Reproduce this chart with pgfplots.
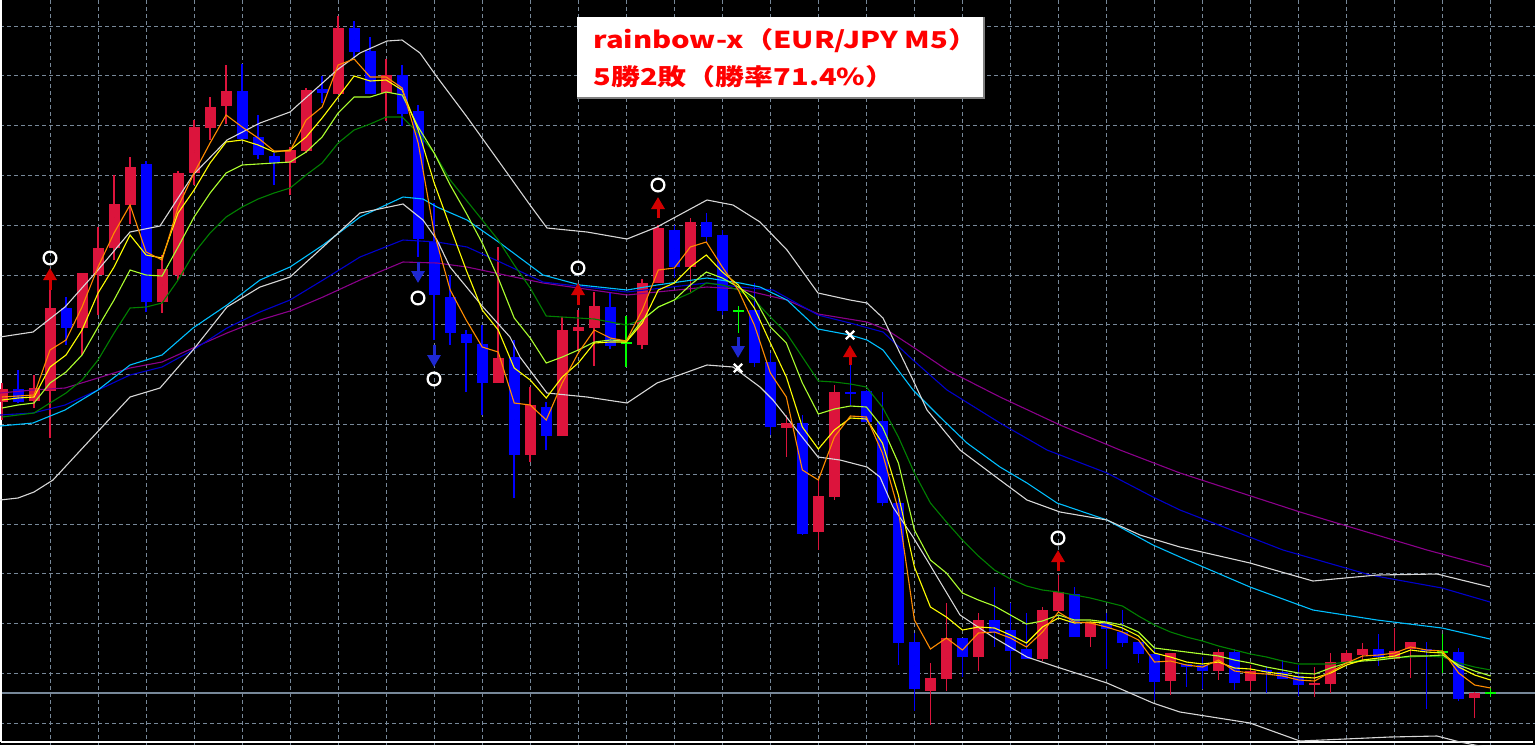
\documentclass[border=0pt]{standalone}
\usepackage{pgfplots}
\pgfplotsset{compat=1.18}
\usepackage{pgfplotstable}
\usepackage{fontspec}
\newfontfamily\jp{Noto Sans CJK JP}
\usetikzlibrary{arrows.meta}
\definecolor{gridc}{RGB}{119,136,153}
\definecolor{crim}{RGB}{220,20,60}
\definecolor{bblue}{RGB}{0,0,255}
\definecolor{dojic}{RGB}{0,255,0}
\definecolor{maor}{RGB}{255,140,0}
\definecolor{mayel}{RGB}{255,255,0}
\definecolor{magy}{RGB}{173,255,47}
\definecolor{magr}{RGB}{0,128,0}
\definecolor{macy}{RGB}{0,191,255}
\definecolor{manv}{RGB}{0,0,205}
\definecolor{mapu}{RGB}{139,0,139}
\definecolor{bbc}{RGB}{215,215,215}
\definecolor{arred}{RGB}{210,0,0}
\definecolor{arblue}{RGB}{30,40,210}
\pgfplotsset{candle/.style={only marks, mark size=0pt, mark options={draw=none, fill=none},
  error bars/.cd, y dir=both, y explicit, error mark=none}}

% bullish candles: k, body top, body bottom, high, low (chart rows, y grows downward)
\pgfplotstableread{
k top bot hi lo
0 389 402 383 420
2 388 401 375 408
3 308 391 290 438
5 273 328 273 355
6 248 275 227 315
7 204 248 175 260
8 167 205 157 224
10 269 302 255 313
11 173 275 171 280
12 127 173 120 185
13 107 128 97 140
14 91 106 65 124
18 150 163 147 195
19 90 151 88 153
21 28 94 16 94
24 75 93 59 121
31 358 383 247 383
33 405 455 387 462
35 330 436 317 436
36 327 331 310 350
37 306 328 292 366
40 283 345 279 349
41 228 283 225 283
43 222 267 218 292
49 423 428 415 457
51 496 532 480 550
52 392 497 385 500
58 678 691 663 725
59 638 679 603 691
61 620 657 613 671
65 610 659 607 661
66 592 611 575 611
68 622 637 622 647
73 653 681 653 695
76 652 671 649 680
78 671 681 665 691
82 683 685 667 697
83 662 684 653 693
84 653 663 650 663
85 649 655 643 661
87 651 659 628 660
88 642 649 642 678
92 693 698 692 718
}\redtab

\pgfplotstableread{
k top bot hi lo
1 389 402 370 403
4 308 328 297 345
9 164 302 161 312
15 91 139 64 140
16 137 155 115 159
17 156 163 153 185
20 89 93 76 103
22 28 52 21 58
23 51 94 37 94
25 75 114 65 126
26 111 239 105 257
27 242 295 203 340
28 297 333 275 345
29 334 343 330 392
30 344 383 325 415
32 357 455 340 498
34 407 436 402 450
38 307 346 293 349
42 230 267 225 278
44 222 237 213 242
45 235 311 230 315
47 310 363 283 367
48 362 427 353 435
50 423 534 415 535
53 392 394 365 405
54 391 422 390 422
55 421 503 392 506
56 503 643 498 665
57 642 689 633 711
60 638 657 638 677
62 620 633 587 647
63 630 651 603 672
64 649 659 613 659
67 594 637 587 637
69 622 629 613 669
70 632 643 610 647
71 642 654 642 663
72 654 682 647 700
74 664 667 664 687
75 665 671 657 689
77 652 683 649 690
79 670 671 666 693
80 672 679 660 679
81 676 685 665 696
86 649 657 634 666
89 649 651 642 709
91 652 699 648 701
}\bluetab

\pgfplotstableread{
k o hi lo
39 343 316 367
46 311 306 333
90 652 634 673
93 693 688 697
}\dojitab

% fast moving averages by bar: orange, yellow, green-yellow, green
\pgfplotstableread{
k o y g d
0 397 400 408 417
1 396 398 405 415
2 395 397 403 413
3 350 367 383 403
4 340 355 372 393
5 307 330 355 380
6 267 293 327 360
7 233 267 300 333
8 205 235 270 308
9 252 255 275 307
10 260 258 276 303
11 207 213 247 280
12 173 190 217 253
13 143 163 193 233
14 115 142 173 217
15 127 140 165 207
16 138 145 164 199
17 151 152 163 193
18 151 150 162 188
19 120 137 152 175
20 107 118 137 163
21 65 97 113 143
22 59 76 97 130
23 77 81 97 124
24 77 80 92 117
25 88 90 95 117
26 143 130 127 133
27 233 183 153 153
28 290 227 185 180
29 320 270 213 200
30 347 310 243 220
31 352 330 278 240
32 403 368 318 265
33 405 380 338 288
34 420 398 363 316
35 383 377 357 317
36 353 363 350 318
37 330 343 342 319
38 338 342 340 322
39 341 342 341 325
40 310 323 320 320
41 270 290 307 307
42 268 283 300 300
43 247 267 285 293
44 242 255 272 283
45 267 272 278 285
46 290 285 287 290
47 325 308 298 300
48 373 343 327 317
49 397 377 343 333
50 470 427 383 357
51 480 449 414 381
52 437 430 409 382
53 416 418 406 384
54 417 419 407 387
55 453 443 427 407
56 510 495 463 437
57 620 567 530 473
58 649 607 560 503
59 638 617 573 522
60 650 630 593 540
61 633 627 600 556
62 632 628 606 570
63 638 635 615 579
64 647 643 624 586
65 632 627 621 590
66 612 618 615 592
67 622 623 620 595
68 623 622 620 598
69 627 623 622 602
70 632 628 625 606
71 640 636 632 616
72 662 653 648 625
73 661 657 650 632
74 665 662 652 637
75 667 664 654 641
76 660 662 656 646
77 671 668 660 650
78 673 669 663 654
79 674 672 667 657
80 676 674 670 661
81 680 677 673 664
82 681 678 674 664
83 672 673 668 664
84 663 665 663 662
85 656 660 661 660
86 655 658 660 659
87 653 656 658 658
88 647 650 656 657
89 650 652 656 656
90 651 653 655 657
91 673 667 665 663
92 685 675 671 667
93 688 680 676 670
}\matab

\pgfplotstableread{
x y v
50 290 -22
578 305 -22
658 218 -21
850 365 -20
1058 571 -21
}\uptab

\pgfplotstableread{
x y v
418 262 21
434 345 22
738 337 21
}\dntab

\begin{document}
\begin{tikzpicture}
\begin{axis}[name=ax,
  width=767.5pt, height=372.5pt, scale only axis,
  xmin=0, xmax=1535, ymin=0, ymax=745, y dir=reverse,
  axis background/.style={fill=black},
  axis line style={draw=none},
  xtick={50,98.02,...,1491}, ytick={26,75.8,...,724},
  xticklabels={}, yticklabels={}, major tick length=0pt,
  grid=major,
  major grid style={draw=gridc, line width=0.5pt, dash pattern=on 2pt off 1.5pt},
  clip=true]

% price line
\addplot[gridc, line width=0.6pt] coordinates {(0,693) (1535,693)};
% borders
\addplot[white, line width=0.8pt] coordinates {(1.2,0) (1.2,742)};
\addplot[white, line width=0.8pt] coordinates {(1.2,742) (1533,742)};

% candles: wicks and bodies
\addplot[candle, error bar style={line width=0.8pt, draw=crim}]
  table[x expr=2+16.007*\thisrow{k}, y expr=(\thisrow{hi}+\thisrow{lo})/2, y error expr=(\thisrow{lo}-\thisrow{hi})/2] {\redtab};
\addplot[candle, error bar style={line width=5.5pt, draw=crim}]
  table[x expr=2+16.007*\thisrow{k}, y expr=(\thisrow{top}+\thisrow{bot})/2, y error expr={max((\thisrow{bot}-\thisrow{top})/2,0.8)}] {\redtab};
\addplot[candle, error bar style={line width=0.8pt, draw=bblue}]
  table[x expr=2+16.007*\thisrow{k}, y expr=(\thisrow{hi}+\thisrow{lo})/2, y error expr=(\thisrow{lo}-\thisrow{hi})/2] {\bluetab};
\addplot[candle, error bar style={line width=5.5pt, draw=bblue}]
  table[x expr=2+16.007*\thisrow{k}, y expr=(\thisrow{top}+\thisrow{bot})/2, y error expr={max((\thisrow{bot}-\thisrow{top})/2,0.8)}] {\bluetab};
\addplot[candle, error bar style={line width=0.8pt, draw=dojic}]
  table[x expr=2+16.007*\thisrow{k}, y expr=(\thisrow{hi}+\thisrow{lo})/2, y error expr=(\thisrow{lo}-\thisrow{hi})/2] {\dojitab};
\addplot[only marks, mark size=0pt, mark options={draw=none, fill=none},
  error bars/.cd, x dir=both, x fixed=5.5, error mark=none,
  error bar style={line width=0.8pt, draw=dojic}]
  table[x expr=2+16.007*\thisrow{k}, y=o] {\dojitab};

% slow averages
\addplot[mapu, line width=0.55pt] coordinates {(0,393) (33,390) (65,388) (98,378) (130,368) (162,362) (193,348) (227,333) (260,320) (290,311) (323,297) (360,280) (403,262) (437,263) (467,267) (500,274) (543,283) (627,295) (707,287) (740,289) (787,300) (818,314) (867,322) (887,330) (913,347) (947,370) (1000,397) (1060,425) (1120,450) (1180,473) (1300,512) (1427,550) (1490,567)};
\addplot[manv, line width=0.55pt] coordinates {(0,415) (33,413) (65,405) (98,390) (130,375) (162,367) (193,350) (227,328) (260,312) (290,300) (323,280) (360,257) (403,240) (437,242) (467,247) (500,262) (543,282) (627,292) (707,283) (740,287) (773,290) (818,315) (850,323) (883,332) (913,360) (947,390) (1000,423) (1047,450) (1107,473) (1153,497) (1180,510) (1283,550) (1370,575) (1442,588) (1490,602)};
\addplot[macy, line width=0.55pt] coordinates {(0,426) (33,423) (65,410) (98,390) (130,365) (162,355) (193,328) (227,305) (260,280) (290,267) (323,245) (360,217) (403,197) (423,199) (437,207) (467,220) (500,243) (543,275) (580,285) (627,290) (657,285) (707,278) (740,283) (760,287) (787,300) (818,329) (850,335) (867,340) (883,350) (913,390) (940,417) (967,443) (1000,467) (1027,483) (1057,503) (1107,520) (1153,545) (1180,557) (1250,587) (1313,610) (1377,620) (1442,628) (1490,639)};
% bands
\addplot[bbc, line width=0.55pt] coordinates {(0,337) (33,332) (65,307) (98,270) (130,232) (160,226) (193,175) (227,140) (260,123) (290,112) (337,70) (360,53) (387,41) (402,40) (420,53) (437,77) (467,117) (500,163) (530,205) (547,228) (587,232) (627,239) (657,227) (707,200) (733,205) (760,222) (787,250) (818,293) (850,300) (867,303) (883,318) (913,380) (927,410) (960,450) (1000,480) (1027,500) (1060,512) (1107,520) (1140,535) (1180,547) (1250,563) (1313,581) (1377,575) (1437,574) (1490,587)};
\addplot[bbc, line width=0.55pt] coordinates {(0,500) (18,498) (34,492) (53,480) (90,440) (130,397) (160,388) (193,350) (227,307) (260,287) (290,277) (323,247) (360,213) (403,204) (423,220) (437,240) (450,267) (483,307) (510,337) (520,357) (547,393) (587,397) (627,403) (657,383) (707,365) (733,367) (760,387) (773,400) (818,457) (840,460) (867,467) (880,477) (893,507) (913,537) (927,560) (960,615) (993,637) (1027,657) (1057,667) (1107,683) (1153,703) (1180,712) (1250,723) (1300,741) (1390,737) (1437,736) (1460,742) (1490,748)};
% fast averages
\addplot[magr, line width=0.55pt] table[x expr=2+16.007*\thisrow{k}, y=d] {\matab};
\addplot[magy, line width=0.55pt] table[x expr=2+16.007*\thisrow{k}, y=g] {\matab};
\addplot[mayel, line width=0.55pt] table[x expr=2+16.007*\thisrow{k}, y=y] {\matab};
\addplot[maor, line width=0.55pt] table[x expr=2+16.007*\thisrow{k}, y=o] {\matab};

% signal arrows
\addplot[arred, line width=1.5pt, -{Triangle[width=6.5pt,length=6pt]}, quiver={u=0, v=\thisrow{v}}] table[x=x, y=y] {\uptab};
\addplot[arblue, line width=1.5pt, -{Triangle[width=6.5pt,length=6pt]}, quiver={u=0, v=\thisrow{v}}] table[x=x, y=y] {\dntab};
% results
\addplot[only marks, mark=o, mark size=3.2pt, white, mark options={line width=1.1pt}] coordinates {(50,258) (418,298) (434,379) (578,268) (658,185) (1058,538)};
\addplot[only marks, mark=x, mark size=3pt, white, mark options={line width=1.2pt}] coordinates {(738,368) (850,335)};

% label box
\fill[white] (axis cs:577,17) rectangle (axis cs:984,98);
\draw[gray, line width=0.6pt] (axis cs:577,98) -- (axis cs:984,98) -- (axis cs:984,17);
\node[anchor=base west, inner sep=0pt, text=red] at (axis cs:593,48)
  {\scalebox{1.26}[1]{\jp\bfseries\fontsize{11.6pt}{13pt}\selectfont rainbow-x（EUR/JPY M5）}};
\node[anchor=base west, inner sep=0pt, text=red] at (axis cs:593,85)
  {\scalebox{1.25}[1]{\jp\bfseries\fontsize{11.6pt}{13pt}\selectfont 5勝2敗（勝率71.4\%）}};
\end{axis}
\pgfresetboundingbox
\useasboundingbox (ax.south west) rectangle (ax.north east);
\end{tikzpicture}
\end{document}
